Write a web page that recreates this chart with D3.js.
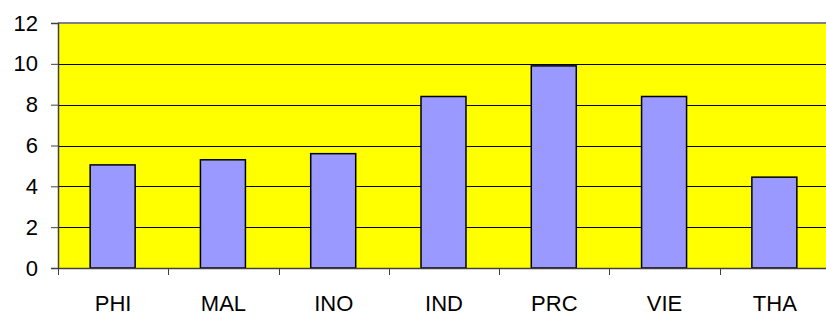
<!DOCTYPE html>
<html>
<head>
<meta charset="utf-8">
<script src="https://cdn.jsdelivr.net/npm/d3@7"></script>
<style>
  body { margin: 0; background: #fff; overflow: hidden; }
  svg { display: block; font-family: "Liberation Sans", Arial, sans-serif; }
</style>
</head>
<body>
<div id="chart"></div>
<script>
// data
const categories = ["PHI", "MAL", "INO", "IND", "PRC", "VIE", "THA"];
const values = [5.05, 5.3, 5.6, 8.4, 9.9, 8.4, 4.45];
const yTicks = [0, 2, 4, 6, 8, 10, 12];

const w = 826, h = 316;
const plotLeft = 58, plotTop = 23, plotRight = 830, plotBottom = 268;

const svg = d3.select("#chart").append("svg")
  .attr("width", w)
  .attr("height", h);

const x = d3.scaleBand()
  .domain(categories)
  .range([plotLeft, plotRight])
  .paddingInner(0)
  .paddingOuter(0);

const y = d3.scaleLinear()
  .domain([0, 12])
  .range([plotBottom, plotTop]);

// plot background
svg.append("rect")
  .attr("x", plotLeft)
  .attr("y", plotTop)
  .attr("width", plotRight - plotLeft)
  .attr("height", plotBottom - plotTop)
  .attr("fill", "#ffff00");

// gridlines
svg.append("g")
  .selectAll("line")
  .data(yTicks.filter((d) => d > 0 && d < 12))
  .enter()
  .append("line")
  .attr("x1", plotLeft)
  .attr("x2", plotRight)
  .attr("y1", (d) => Math.round(y(d)) + 0.5)
  .attr("y2", (d) => Math.round(y(d)) + 0.5)
  .attr("stroke", "#000")
  .attr("stroke-width", 1);

// top border
svg.append("line")
  .attr("x1", plotLeft).attr("x2", plotRight)
  .attr("y1", plotTop).attr("y2", plotTop)
  .attr("stroke", "#808080")
  .attr("stroke-width", 2);

// bars
const barW = 45;
svg.append("g")
  .selectAll("rect")
  .data(values)
  .enter()
  .append("rect")
  .attr("x", (d, i) => x(categories[i]) + x.bandwidth() / 2 - barW / 2 - 0.5)
  .attr("y", (d) => y(d))
  .attr("width", barW)
  .attr("height", (d) => plotBottom - y(d))
  .attr("fill", "#9999ff")
  .attr("stroke", "#000")
  .attr("stroke-width", 1.5);

// y axis
const yAxis = svg.append("g")
  .attr("transform", "translate(" + plotLeft + ",0)")
  .call(d3.axisLeft(y).tickValues(yTicks).tickSize(7).tickPadding(13));
yAxis.select(".domain").attr("stroke", "#404040").attr("stroke-width", 1.5);
yAxis.selectAll(".tick line").attr("stroke", "#404040");
yAxis.selectAll(".tick text")
  .attr("font-size", 22)
  .attr("fill", "#000")
  .attr("font-family", "Liberation Sans, Arial, sans-serif");

// x axis
const xAxis = svg.append("g")
  .attr("transform", "translate(0," + plotBottom + ")")
  .call(d3.axisBottom(x).tickSize(0).tickPadding(27));
xAxis.select(".domain").attr("stroke", "#404040").attr("stroke-width", 1.5);
xAxis.selectAll(".tick text")
  .attr("font-size", 22)
  .attr("fill", "#000")
  .attr("font-family", "Liberation Sans, Arial, sans-serif");

// category boundary ticks
svg.append("g")
  .selectAll("line")
  .data(categories)
  .enter()
  .append("line")
  .attr("x1", (d) => Math.round(x(d)) + 0.5)
  .attr("x2", (d) => Math.round(x(d)) + 0.5)
  .attr("y1", plotBottom)
  .attr("y2", plotBottom + 7)
  .attr("stroke", "#404040");
</script>
</body>
</html>
